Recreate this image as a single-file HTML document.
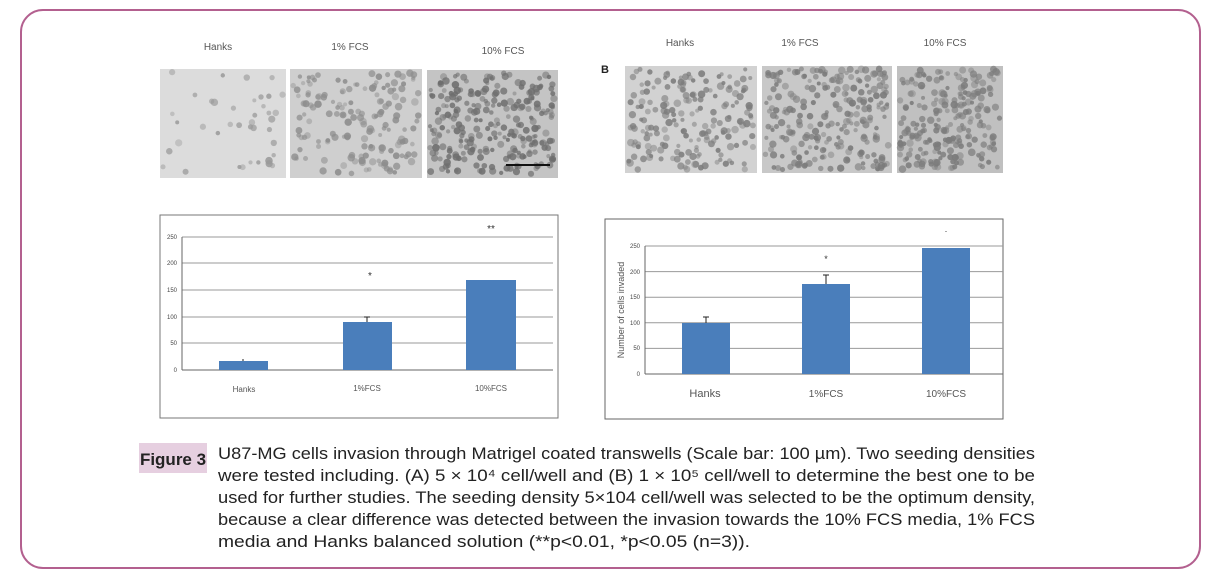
<!DOCTYPE html>
<html><head><meta charset="utf-8"><style>
html,body{margin:0;padding:0;background:#fff;}
svg{display:block;}
</style></head><body>
<svg id="s" width="1215" height="580" viewBox="0 0 1215 580" xmlns="http://www.w3.org/2000/svg" font-family="Liberation Sans, sans-serif">
<rect x="21" y="10" width="1179" height="558" rx="22" fill="#fff" stroke="#b3608f" stroke-width="2"/>
<g font-size="10" fill="#555" text-anchor="middle">
<text x="218" y="50">Hanks</text><text x="350" y="50">1% FCS</text><text x="503" y="54">10%  FCS</text>
<text x="680" y="46">Hanks</text><text x="800" y="46">1% FCS</text><text x="945" y="46">10%  FCS</text>
</g>
<text x="601" y="73" font-size="11" font-weight="bold" fill="#222">B</text>
<g id="photos"></g>
<line x1="506" y1="165" x2="550" y2="165" stroke="#111" stroke-width="2"/>
<!-- Chart A -->
<rect x="160" y="215" width="398" height="203" fill="#fff" stroke="#777" stroke-width="1"/>
<g stroke="#999" stroke-width="1">
<line x1="182" y1="237" x2="553" y2="237"/><line x1="182" y1="263" x2="553" y2="263"/><line x1="182" y1="290" x2="553" y2="290"/><line x1="182" y1="317" x2="553" y2="317"/><line x1="182" y1="343" x2="553" y2="343"/>
<line x1="182" y1="370" x2="553" y2="370" stroke="#666"/><line x1="182" y1="237" x2="182" y2="370" stroke="#666"/>
</g>
<g font-size="6" fill="#444" text-anchor="end">
<text x="177" y="239">250</text><text x="177" y="265">200</text><text x="177" y="292">150</text><text x="177" y="319">100</text><text x="177" y="345">50</text><text x="177" y="372">0</text>
</g>
<g fill="#4a7ebb">
<rect x="219" y="361" width="49" height="9"/><rect x="343" y="322" width="49" height="48"/><rect x="466" y="280" width="50" height="90"/>
</g>
<g stroke="#222" stroke-width="1"><line x1="243" y1="359" x2="243" y2="361"/><line x1="367" y1="317" x2="367" y2="322"/><line x1="364" y1="317" x2="370" y2="317"/></g>
<g font-size="10" fill="#333" text-anchor="middle"><text x="370" y="279">*</text><text x="491" y="232">**</text></g>
<g font-size="8" fill="#555" text-anchor="middle"><text x="244" y="392">Hanks</text><text x="367" y="391">1%FCS</text><text x="491" y="391">10%FCS</text></g>
<!-- Chart B -->
<rect x="605" y="219" width="398" height="200" fill="#fff" stroke="#666" stroke-width="1"/>
<g stroke="#999" stroke-width="1">
<line x1="645" y1="246" x2="1003" y2="246"/><line x1="645" y1="271.6" x2="1003" y2="271.6"/><line x1="645" y1="297.2" x2="1003" y2="297.2"/><line x1="645" y1="322.8" x2="1003" y2="322.8"/><line x1="645" y1="348.4" x2="1003" y2="348.4"/>
<line x1="645" y1="374" x2="1003" y2="374" stroke="#666"/><line x1="645" y1="246" x2="645" y2="374" stroke="#666"/>
</g>
<g font-size="6" fill="#444" text-anchor="end">
<text x="640" y="248">250</text><text x="640" y="274">200</text><text x="640" y="299">150</text><text x="640" y="325">100</text><text x="640" y="350">50</text><text x="640" y="376">0</text>
</g>
<text transform="translate(624,310) rotate(-90)" font-size="9" fill="#555" text-anchor="middle">Number of cells invaded</text>
<g fill="#4a7ebb">
<rect x="682" y="323" width="48" height="51"/><rect x="802" y="284" width="48" height="90"/><rect x="922" y="248" width="48" height="126"/>
</g>
<g stroke="#222" stroke-width="1"><line x1="706" y1="317" x2="706" y2="323"/><line x1="703" y1="317" x2="709" y2="317"/><line x1="826" y1="275" x2="826" y2="284"/><line x1="823" y1="275" x2="829" y2="275"/></g>
<g font-size="9" fill="#333" text-anchor="middle"><text x="826" y="262">*</text><text x="946" y="234">·</text></g>
<g font-size="10" fill="#555" text-anchor="middle"><text x="705" y="397" font-size="11">Hanks</text><text x="826" y="397">1%FCS</text><text x="946" y="397">10%FCS</text></g>
<!-- caption -->
<rect x="139" y="443" width="68" height="30" fill="#e6cfe0"/>
<text x="173" y="465" font-size="17" font-weight="bold" fill="#222" text-anchor="middle">Figure 3</text>
<g font-size="16.5" fill="#222">
<text x="218" y="459" textLength="817" lengthAdjust="spacingAndGlyphs">U87-MG cells invasion through Matrigel coated transwells (Scale bar: 100 µm). Two seeding densities</text>
<text x="218" y="481" textLength="817" lengthAdjust="spacingAndGlyphs">were tested including. (A) 5 × 10⁴ cell/well and (B) 1 × 10⁵ cell/well to determine the best one to be</text>
<text x="218" y="503" textLength="817" lengthAdjust="spacingAndGlyphs">used for further studies. The seeding density 5×104 cell/well was selected to be the optimum density,</text>
<text x="218" y="525" textLength="817" lengthAdjust="spacingAndGlyphs">because a clear difference was detected between the invasion towards the 10% FCS media, 1% FCS</text>
<text x="218" y="547" textLength="532" lengthAdjust="spacingAndGlyphs">media and Hanks balanced solution (**p&lt;0.01, *p&lt;0.05 (n=3)).</text>
</g>
</svg>
<script>
(function(){
var g=document.getElementById('photos'),ns='http://www.w3.org/2000/svg',seed=7;
function r(){seed=(seed*16807)%2147483647;return seed/2147483647;}
var P=[[160,69,126,109,'#dcdcdc',40,'#9a9a9a'],[290,69,132,109,'#cfcfcf',160,'#8c8c8c'],[427,70,131,108,'#c4c4c4',260,'#6e6e6e'],
[625,66,132,107,'#d2d2d2',190,'#7c7c7c'],[762,66,130,107,'#c8c8c8',240,'#7a7a7a'],[897,66,106,107,'#c0c0c0',230,'#7c7c7c']];
P.forEach(function(p){
 var rc=document.createElementNS(ns,'rect');rc.setAttribute('x',p[0]);rc.setAttribute('y',p[1]);rc.setAttribute('width',p[2]);rc.setAttribute('height',p[3]);rc.setAttribute('fill',p[4]);g.appendChild(rc);
 for(var i=0;i<p[5];i++){var c=document.createElementNS(ns,'circle');c.setAttribute('cx',p[0]+3+r()*(p[2]-6));c.setAttribute('cy',p[1]+3+r()*(p[3]-6));c.setAttribute('r',2+r()*1.8);c.setAttribute('fill',p[6]);c.setAttribute('opacity',0.4+r()*0.5);g.appendChild(c);}
});
})();
</script>
</body></html>
